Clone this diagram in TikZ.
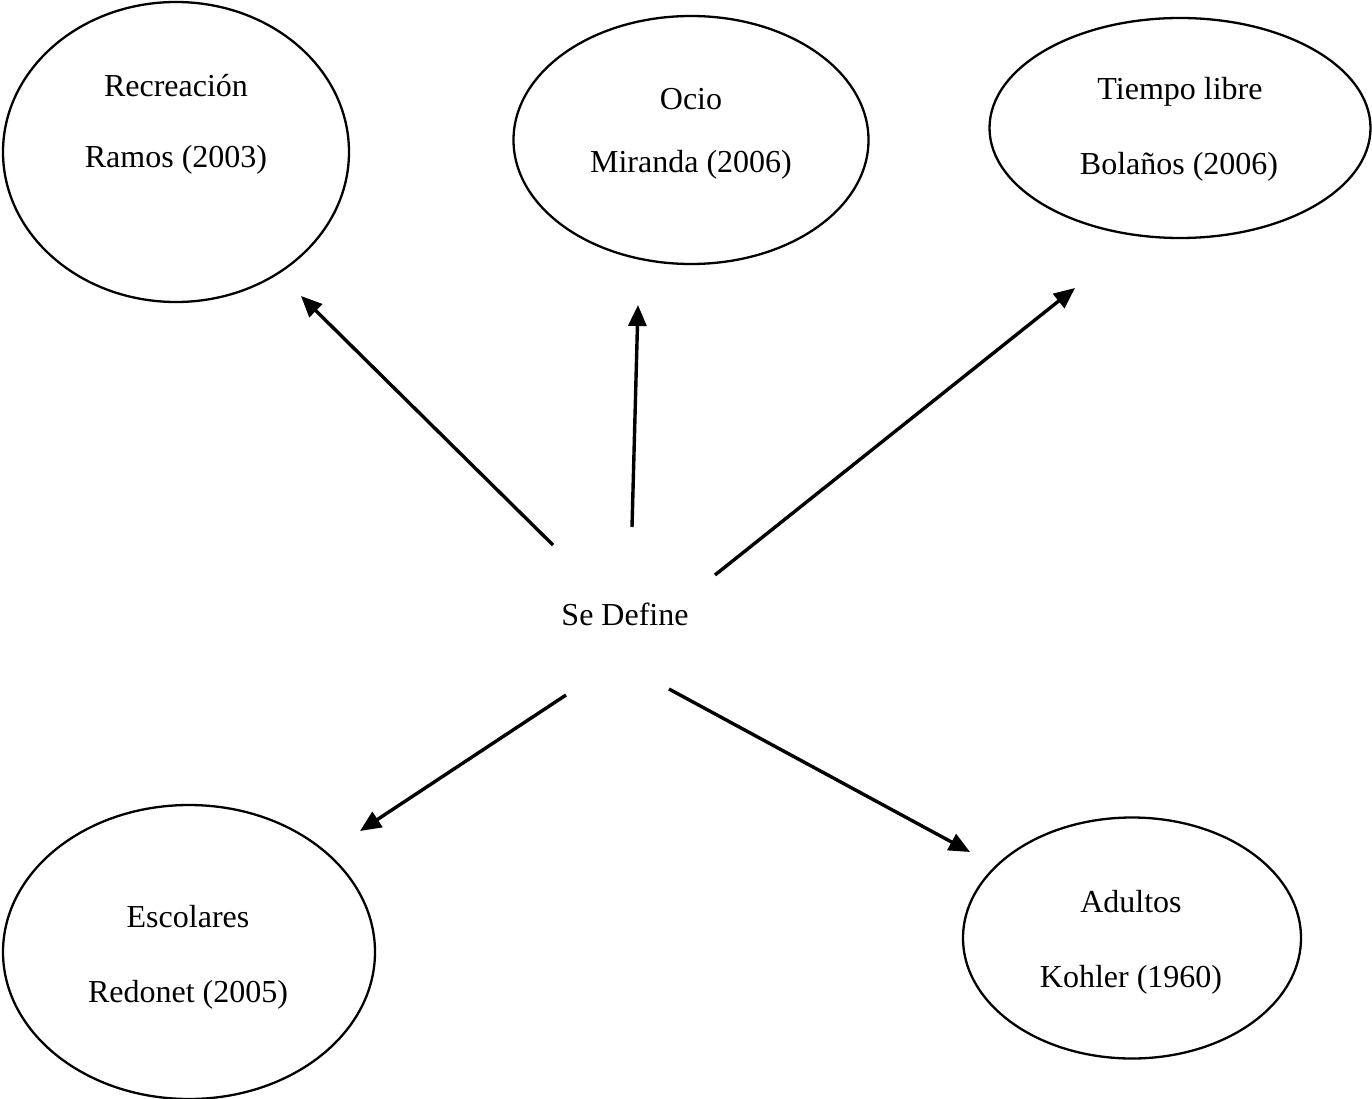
\documentclass[tikz,border=0pt]{standalone}
\usepackage{fontspec}
\setmainfont{Liberation Serif}
\usetikzlibrary{shapes.geometric,arrows.meta}
\begin{document}
\begin{tikzpicture}[x=1pt,y=-1pt,
  oval/.style={draw,ellipse,line width=2.3pt,inner sep=0pt},
  lbl/.style={anchor=base,inner sep=0pt,font=\fontsize{32}{38}\selectfont},
  conn/.style={line width=3.4pt,-{Triangle[length=21pt,width=18pt]}}]
\useasboundingbox (0,0) rectangle (1372,1099);
% ellipses
\node[oval,minimum width=346pt,minimum height=300pt] (e1) at (176,152) {};
\node[oval,minimum width=355pt,minimum height=248pt] (e2) at (691,140) {};
\node[oval,minimum width=381pt,minimum height=220pt] (e3) at (1180,128) {};
\node[oval,minimum width=372pt,minimum height=294pt] (e4) at (189,952) {};
\node[oval,minimum width=338pt,minimum height=241pt] (e5) at (1132,938) {};
% labels
\node[lbl] (t1a) at (176,97) {Recreación};
\node[lbl] (t1b) at (176,168) {Ramos (2003)};
\node[lbl] (t2a) at (691,110) {Ocio};
\node[lbl] (t2b) at (691,173) {Miranda (2006)};
\node[lbl] (t3a) at (1180,100) {Tiempo libre};
\node[lbl] (t3b) at (1179,175) {Bolaños (2006)};
\node[lbl] (t4a) at (188,927) {Escolares};
\node[lbl] (t4b) at (188,1002) {Redonet (2005)};
\node[lbl] (t5a) at (1131,912) {Adultos};
\node[lbl] (t5b) at (1131,987) {Kohler (1960)};
\node[lbl] (center) at (625,625) {Se Define};
% arrow endpoints
\coordinate (s1) at (553,545); \coordinate (d1) at (301,296);
\coordinate (s2) at (632,527); \coordinate (d2) at (638,305);
\coordinate (s3) at (715,575); \coordinate (d3) at (1075,288);
\coordinate (s4) at (566,695); \coordinate (d4) at (360,831);
\coordinate (s5) at (669,689); \coordinate (d5) at (970,852);
\draw[conn] (s1) -- (d1);
\draw[conn] (s2) -- (d2);
\draw[conn] (s3) -- (d3);
\draw[conn] (s4) -- (d4);
\draw[conn] (s5) -- (d5);
\end{tikzpicture}
\end{document}
